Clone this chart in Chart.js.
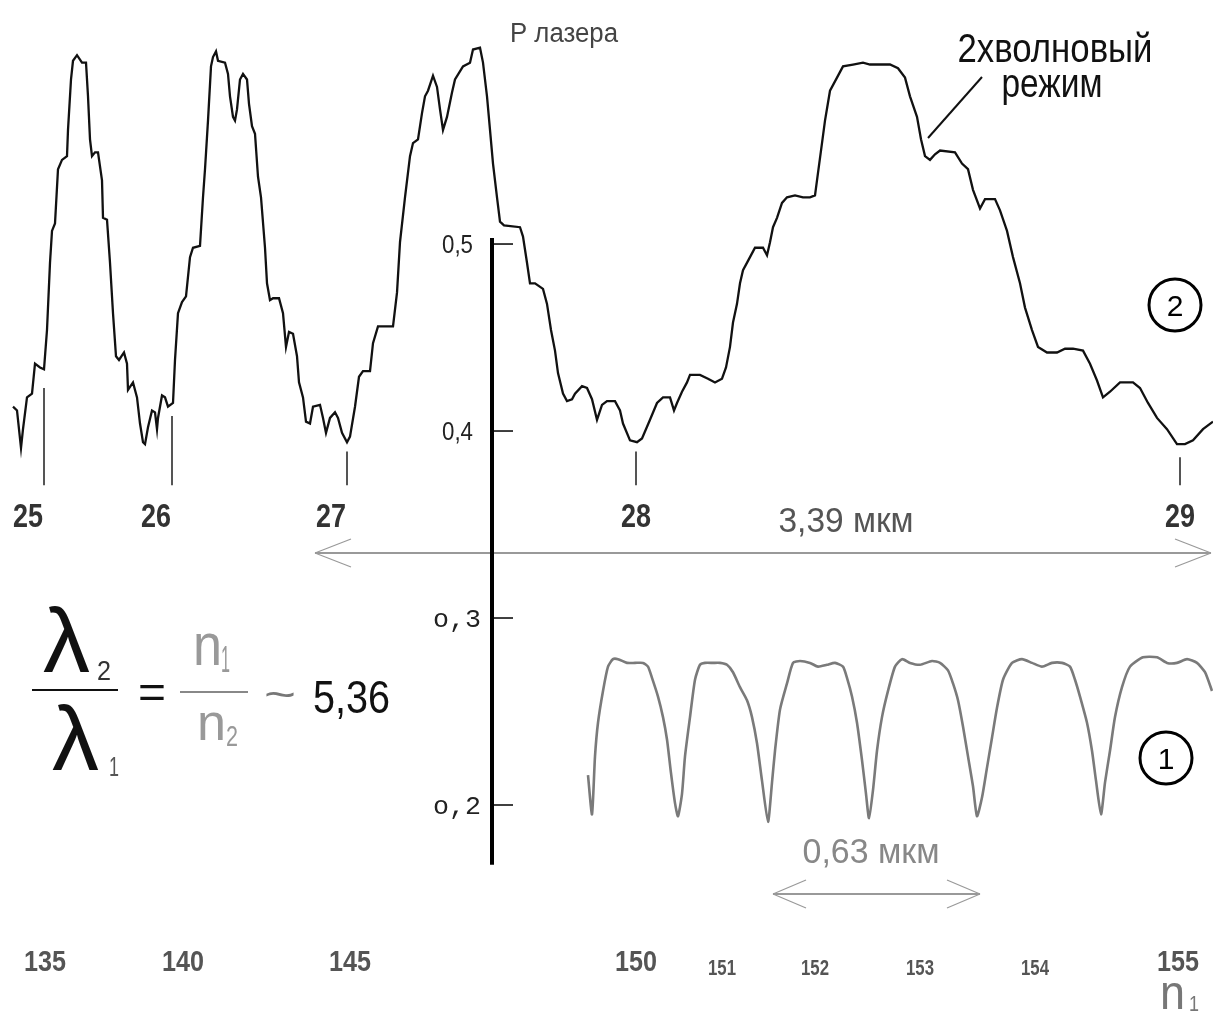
<!DOCTYPE html>
<html>
<head>
<meta charset="utf-8">
<script src="https://cdn.jsdelivr.net/npm/chart.js@4.4.1/dist/chart.umd.min.js"></script>
<style>
  html, body { margin: 0; padding: 0; background: #fff; }
  canvas { display: block; }
</style>
</head>
<body>
<canvas id="laserChart" width="1213" height="1012"></canvas>
<script>
// trace 2 (3,39 мкм): scan position and laser power
const scan2 = [13, 17, 21, 23, 27, 32, 35, 40, 44, 47, 50, 52, 55, 58, 62, 67, 68, 71, 73, 77, 82, 86, 88, 90, 92, 95, 98, 102, 103, 107,
  110, 113, 116, 119, 124, 127, 128, 133, 137, 140, 143, 145, 148, 152, 155, 157, 158, 162, 165, 168, 173, 175, 178, 182, 186, 190, 193, 200,
  203, 205, 208, 211, 213, 216, 218, 225, 228, 230, 233, 235, 237, 240, 243, 247, 249, 252, 255, 258, 261, 265, 267, 270, 273, 279, 283, 286,
  289, 293, 297, 299, 303, 306, 310, 313, 320, 323, 326, 330, 335, 338, 342, 347, 350, 355, 359, 363, 370, 373, 378, 383, 393, 397, 400, 405,
  410, 413, 418, 422, 425, 428, 433, 437, 440, 443, 447, 452, 455, 463, 470, 473, 480, 483, 487, 490, 493, 497, 500, 504, 520, 523, 527, 530,
  535, 543, 547, 551, 555, 558, 563, 567, 572, 575, 582, 587, 592, 597, 602, 607, 615, 620, 623, 630, 637, 642, 650, 657, 663, 670, 674, 677,
  682, 687, 690, 700, 708, 715, 722, 726, 730, 733, 737, 740, 743, 748, 755, 763, 767, 770, 773, 777, 782, 787, 795, 803, 810, 815, 818, 822,
  825, 830, 837, 843, 853, 863, 870, 890, 898, 905, 910, 917, 921, 925, 930, 935, 940, 955, 962, 968, 973, 980, 985, 995, 1000, 1007, 1013,
  1020, 1025, 1032, 1038, 1047, 1057, 1065, 1073, 1083, 1090, 1097, 1103, 1110, 1120, 1133, 1140, 1148, 1157, 1167, 1177, 1185, 1193, 1203, 1213];
const power2 = [.413, .411, .391, .401, .418, .420, .436, .434, .433, .454, .490, .507, .511, .540, .545, .547, .561, .588, .598, .601, .597, .597, .579, .556, .547, .549, .549, .534, .514, .513,
  .490, .463, .440, .438, .442, .436, .422, .426, .418, .404, .394, .393, .402, .411, .410, .401, .407, .419, .418, .413, .415, .438, .463, .469, .472, .493, .498, .499,
  .525, .540, .566, .595, .600, .603, .598, .597, .591, .579, .568, .566, .572, .588, .591, .588, .575, .563, .559, .536, .525, .498, .479, .470, .471, .471, .463, .445,
  .453, .452, .440, .426, .418, .405, .404, .413, .414, .407, .399, .407, .410, .407, .399, .394, .397, .413, .429, .432, .432, .447, .456, .456, .456, .474, .501, .525,
  .547, .554, .556, .570, .579, .582, .590, .584, .572, .561, .568, .581, .588, .595, .597, .604, .605, .597, .579, .561, .543, .525, .512, .510, .509, .504, .490, .479,
  .479, .476, .468, .454, .443, .431, .420, .416, .417, .420, .424, .423, .417, .406, .414, .416, .416, .411, .404, .395, .394, .396, .406, .415, .418, .418, .411, .415,
  .421, .426, .430, .430, .428, .426, .428, .434, .445, .458, .468, .479, .486, .491, .498, .498, .494, .501, .509, .514, .522, .525, .526, .525, .525, .526, .538, .554,
  .566, .582, .589, .595, .596, .597, .596, .596, .594, .589, .579, .568, .556, .547, .545, .548, .550, .549, .543, .540, .529, .519, .524, .524, .518, .507, .493,
  .479, .466, .454, .445, .442, .442, .444, .444, .443, .436, .427, .418, .421, .426, .426, .423, .415, .407, .401, .393, .393, .395, .401, .405];

// trace 1 (0,63 мкм)
const scan1 = [588, 592, 595, 598, 603, 608, 613, 618, 627, 635, 643, 648, 652, 658, 663, 667, 671, 675, 678, 682, 685, 690, 695, 700, 705, 713,
  720, 727, 733, 740, 747, 752, 757, 762, 768, 772, 775, 780, 787, 793, 800, 810, 818, 827, 835, 843, 847, 852, 857, 862, 866, 869, 873, 877,
  882, 888, 895, 902, 910, 920, 932, 940, 948, 953, 958, 963, 968, 973, 977, 982, 987, 992, 997, 1003, 1012, 1022, 1032, 1042, 1052, 1062,
  1070, 1075, 1080, 1087, 1092, 1096, 1101, 1105, 1110, 1115, 1122, 1130, 1143, 1157, 1167, 1177, 1187, 1197, 1205, 1212];
const power1 = [.216, .195, .226, .244, .261, .274, .278, .278, .276, .276, .276, .274, .268, .258, .247, .235, .217, .201, .194, .206, .226, .247, .267, .275, .276, .276,
  .276, .275, .271, .263, .256, .247, .233, .213, .191, .212, .229, .251, .265, .276, .277, .276, .274, .275, .276, .274, .268, .258, .244, .224, .206, .193, .208, .229,
  .247, .261, .274, .278, .276, .275, .277, .276, .272, .265, .256, .242, .226, .210, .194, .204, .220, .236, .252, .267, .276, .278, .276, .274, .276, .276,
  .274, .267, .258, .244, .229, .213, .195, .212, .229, .247, .263, .274, .279, .279, .276, .276, .278, .276, .271, .261];

// power axis
const powerTicks = [0.5, 0.4, 0.3, 0.2];
const powerTickLabels = ['0,5', '0,4', 'o,3', 'o,2'];
const powerAxisRange = [0.5, 0.168];

// interference orders of trace 2 (top row) and trace 1 (bottom row)
const orders2 = ['25', '26', '27', '28', '29'];
const orders2Pos = [44, 172, 347, 636, 1180];
const orders2Top = [0.423, 0.408, 0.389, 0.389, 0.386];
const orders1 = ['135', '140', '145', '150', '151', '152', '153', '154', '155'];
const orders1Pos = [45, 183, 350, 636, 722, 815, 920, 1035, 1178];

function toPoints(xs, ys) {
  return xs.map((x, i) => ({ x: x, y: ys[i] }));
}

// text with horizontal fit to a given width and optional vertical stretch
function txt(ctx, s, x, y, o) {
  ctx.save();
  ctx.font = o.font;
  ctx.fillStyle = o.color || '#000';
  ctx.textAlign = 'left';
  ctx.textBaseline = 'alphabetic';
  const w = ctx.measureText(s).width;
  const sx = o.width ? o.width / w : 1;
  let left = x;
  if (o.align === 'center') left = x - w * sx / 2;
  else if (o.align === 'right') left = x - w * sx;
  ctx.translate(left, y);
  ctx.scale(sx, o.sy || 1);
  ctx.fillText(s, 0, 0);
  ctx.restore();
}

function line(ctx, x1, y1, x2, y2, color, lw) {
  ctx.beginPath();
  ctx.moveTo(x1, y1);
  ctx.lineTo(x2, y2);
  ctx.strokeStyle = color;
  ctx.lineWidth = lw;
  ctx.stroke();
}

function doubleArrow(ctx, x1, x2, y, len, spread, color, lw) {
  line(ctx, x1, y, x2, y, color, lw);
  line(ctx, x1, y, x1 + len, y - spread, color, 1.2);
  line(ctx, x1, y, x1 + len, y + spread, color, 1.2);
  line(ctx, x2, y, x2 - len, y - spread, color, 1.2);
  line(ctx, x2, y, x2 - len, y + spread, color, 1.2);
}

const annotations = {
  id: 'annotations',
  afterDatasetsDraw(chart) {
    const ctx = chart.ctx;
    const xs = chart.scales.x, ys = chart.scales.y;
    const X = v => xs.getPixelForValue(v);
    const Y = v => ys.getPixelForValue(v);
    ctx.save();
    ctx.lineCap = 'butt';

    // order marks under the minima of trace 2
    orders2Pos.forEach((p, i) => {
      line(ctx, X(p), Y(orders2Top[i]), X(p), Y(0.371), '#555', 2);
      txt(ctx, orders2[i], X(p) - (i < 3 ? 16 : 0), 527, { font: 'bold 33px "Liberation Sans"', color: '#333', width: 30, align: 'center', sy: 1.0 });
    });

    // 3,39 мкм span
    doubleArrow(ctx, X(315), X(1211), 553, 36, 14, '#999', 2);
    txt(ctx, '3,39 мкм', 846, 532, { font: '33px "Liberation Sans"', color: '#555', width: 135, align: 'center', sy: 1.05 });

    // power axis
    const ax = X(492);
    line(ctx, ax, Y(powerAxisRange[0]) - 6, ax, Y(powerAxisRange[1]), '#000', 4);
    powerTicks.forEach((t, i) => {
      line(ctx, ax, Y(t), ax + 21, Y(t), '#000', 1.5);
      if (i < 2) {
        txt(ctx, powerTickLabels[i], 473, Y(t) + 9, { font: '25px "Liberation Sans"', color: '#222', width: 31, align: 'right', sy: 1.05 });
      } else {
        txt(ctx, powerTickLabels[i], 481, Y(t) + 9, { font: '25px "Liberation Mono"', color: '#222', width: 48, align: 'right' });
      }
    });
    txt(ctx, 'P лазера', 510, 42, { font: '27px "Liberation Sans"', color: '#444', width: 108 });

    // 2-wave regime note
    line(ctx, 928, 138, 982, 77, '#111', 2);
    txt(ctx, '2хволновый', 1055, 62, { font: '37px "Liberation Sans"', color: '#111', width: 195, align: 'center', sy: 1.08 });
    txt(ctx, 'режим', 1052, 97, { font: '37px "Liberation Sans"', color: '#111', width: 101, align: 'center', sy: 1.08 });

    // trace numbers
    [[1175, 305, '2'], [1166, 758, '1']].forEach(c => {
      ctx.beginPath();
      ctx.arc(c[0], c[1], 26, 0, Math.PI * 2);
      ctx.strokeStyle = '#000';
      ctx.lineWidth = 3;
      ctx.stroke();
      txt(ctx, c[2], c[0], c[1] + 11, { font: '30px "Liberation Sans"', color: '#000', align: 'center' });
    });

    // 0,63 мкм span
    doubleArrow(ctx, 773, 980, 894, 33, 14, '#999', 2);
    txt(ctx, '0,63 мкм', 871, 863, { font: '33px "Liberation Sans"', color: '#888', width: 137, align: 'center', sy: 1.05 });

    // orders of trace 1
    orders1.forEach((s, i) => {
      const big = i < 4 || i === 8;
      if (big) {
        txt(ctx, s, X(orders1Pos[i]), 971, { font: 'bold 26px "Liberation Sans"', color: '#555', width: 42, align: 'center', sy: 1.15 });
      } else {
        txt(ctx, s, X(orders1Pos[i]), 975, { font: 'bold 19px "Liberation Sans"', color: '#555', width: 28, align: 'center', sy: 1.2 });
      }
    });
    txt(ctx, 'n', 1160, 1009, { font: '44px "Liberation Sans"', color: '#777', width: 25, sy: 1.1 });
    txt(ctx, '1', 1189, 1011, { font: '22px "Liberation Sans"', color: '#777', width: 10 });

    // wavelength ratio
    txt(ctx, 'λ', 43, 672, { font: '70px "Liberation Sans"', color: '#111', width: 47, sy: 1.3 });
    txt(ctx, '2', 97, 680, { font: '28px "Liberation Sans"', color: '#333', width: 14 });
    line(ctx, 32, 690, 118, 690, '#111', 2);
    txt(ctx, 'λ', 52, 770, { font: '70px "Liberation Sans"', color: '#111', width: 47, sy: 1.3 });
    txt(ctx, '1', 109, 776, { font: '28px "Liberation Sans"', color: '#555', width: 10 });
    txt(ctx, '=', 138, 708, { font: '46px "Liberation Sans"', color: '#111', width: 28 });
    txt(ctx, 'n', 193, 665, { font: '52px "Liberation Sans"', color: '#999', width: 29, sy: 1.15 });
    txt(ctx, '1', 221, 672, { font: '36px "Liberation Sans"', color: '#999', width: 9 });
    line(ctx, 180, 692, 248, 692, '#888', 2);
    txt(ctx, 'n', 197, 740, { font: '52px "Liberation Sans"', color: '#999', width: 29, sy: 1.0 });
    txt(ctx, '2', 226, 746, { font: '30px "Liberation Sans"', color: '#999', width: 12 });
    txt(ctx, '~', 264, 708, { font: '40px "Liberation Sans"', color: '#777', width: 32 });
    txt(ctx, '5,36', 313, 713, { font: '46px "Liberation Sans"', color: '#111', width: 77 });

    ctx.restore();
  }
};

const ctx = document.getElementById('laserChart').getContext('2d');
const laserChart = new Chart(ctx, {
  type: 'line',
  data: {
    datasets: [{
      label: '3,39 мкм',
      data: toPoints(scan2, power2),
      borderColor: '#111',
      borderWidth: 2.3,
      pointRadius: 0,
      tension: 0,
      fill: false
    }, {
      label: '0,63 мкм',
      data: toPoints(scan1, power1),
      borderColor: '#7a7a7a',
      borderWidth: 2.6,
      pointRadius: 0,
      tension: 0.2,
      fill: false
    }]
  },
  options: {
    responsive: false,
    animation: false,
    layout: { padding: 0 },
    plugins: {
      legend: { display: false },
      tooltip: { enabled: false }
    },
    scales: {
      x: { type: 'linear', min: 0, max: 1213, display: false },
      y: { type: 'linear', min: 0.0893, max: 0.6305, display: false }
    }
  },
  plugins: [annotations]
});
</script>
</body>
</html>
